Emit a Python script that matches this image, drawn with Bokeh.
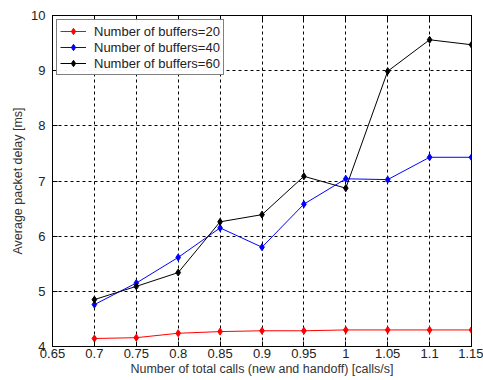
from bokeh.plotting import figure
from bokeh.models import FixedTicker, LinearAxis, Range1d, Legend, LegendItem
from bokeh.embed import file_html
from bokeh.resources import INLINE

calls = [0.7, 0.75, 0.8, 0.85, 0.9, 0.95, 1.0, 1.05, 1.1, 1.15]
buf20 = [4.145, 4.16, 4.24, 4.27, 4.285, 4.285, 4.30, 4.30, 4.30, 4.30]
buf40 = [4.76, 5.15, 5.615, 6.15, 5.80, 6.58, 7.04, 7.025, 7.43, 7.43]
buf60 = [4.85, 5.09, 5.34, 6.26, 6.39, 7.085, 6.87, 8.99, 9.56, 9.47]
x_ticks = [0.65, 0.7, 0.75, 0.8, 0.85, 0.9, 0.95, 1.0, 1.05, 1.1, 1.15]
x_tick_labels = ["0.65", "0.7", "0.75", "0.8", "0.85", "0.9", "0.95", "1", "1.05", "1.1", "1.15"]
y_ticks = [4, 5, 6, 7, 8, 9, 10]
names = ["Number of buffers=20", "Number of buffers=40", "Number of buffers=60"]
colors = ["#ff0000", "#0000ff", "#000000"]

FONT = "Liberation Sans"

p = figure(width=483, height=380, output_backend="svg", toolbar_location=None,
           x_range=Range1d(0.65, 1.15), y_range=Range1d(4, 10),
           min_border_left=52, min_border_right=12, min_border_top=15, min_border_bottom=34)
p.outline_line_color = "black"
p.outline_line_width = 1
p.background_fill_color = "white"
p.border_fill_color = "white"

for ax in (p.xaxis[0], p.yaxis[0]):
    ax.major_tick_in = 5
    ax.major_tick_out = 0
    ax.minor_tick_line_color = None
    ax.axis_line_color = "black"
    ax.major_label_text_font = FONT
    ax.major_label_text_font_size = "13px"
    ax.major_label_text_color = "#222222"
    ax.axis_label_text_font = FONT
    ax.axis_label_text_font_size = "12.5px"
    ax.axis_label_text_font_style = "normal"
    ax.axis_label_text_color = "#333333"

p.xaxis[0].ticker = FixedTicker(ticks=x_ticks)
p.xaxis[0].major_label_overrides = {t: l for t, l in zip(x_ticks, x_tick_labels)}
p.yaxis[0].ticker = FixedTicker(ticks=y_ticks)
p.xaxis[0].axis_label = "Number of total calls (new and handoff) [calls/s]"
p.yaxis[0].axis_label = "Average packet delay [ms]"
p.xaxis[0].major_label_standoff = 2
p.xaxis[0].axis_label_standoff = 1
p.yaxis[0].major_label_standoff = 7
p.yaxis[0].axis_label_standoff = 3

top = LinearAxis(ticker=FixedTicker(ticks=x_ticks), major_label_text_font_size="0px",
                 major_tick_in=5, major_tick_out=0, minor_tick_line_color=None)
right = LinearAxis(ticker=FixedTicker(ticks=y_ticks), major_label_text_font_size="0px",
                   major_tick_in=5, major_tick_out=0, minor_tick_line_color=None)
top.major_label_text_color = None
right.major_label_text_color = None
p.add_layout(top, "above")
p.add_layout(right, "right")

p.xgrid.ticker = FixedTicker(ticks=x_ticks)
p.ygrid.ticker = FixedTicker(ticks=y_ticks)
for g in (p.xgrid[0], p.ygrid[0]):
    g.grid_line_color = "black"
    g.grid_line_dash = "3 3"
    g.grid_line_width = 1

items = []
for ys, c, n in zip([buf20, buf40, buf60], colors, names):
    l = p.line(calls, ys, line_color=c, line_width=1)
    m = p.scatter(calls, ys, marker="diamond", size=7, fill_color=c, line_color=c)
    items.append(LegendItem(label=n, renderers=[l, m]))

legend = Legend(items=items, location="top_left")
legend.label_text_font = FONT
legend.label_text_font_size = "13px"
legend.label_text_color = "#222222"
legend.border_line_color = "black"
legend.border_line_width = 1
legend.margin = 4
legend.padding = 3
legend.spacing = 0
legend.label_height = 16
legend.glyph_height = 16
legend.glyph_width = 26
legend.label_standoff = 8
p.add_layout(legend)

open("out.html", "w").write(file_html(p, INLINE))
